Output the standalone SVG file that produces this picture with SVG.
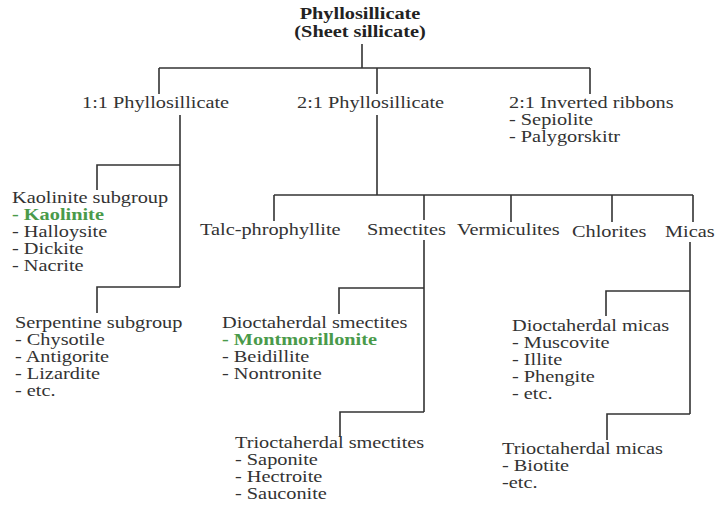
<svg xmlns="http://www.w3.org/2000/svg" width="718" height="508" viewBox="0 0 718 508">
<style>
text{font-family:"Liberation Serif","Times New Roman",serif;font-size:16px;fill:#333}
.b{font-weight:bold;fill:#222}
.g{font-weight:bold;fill:#4a9a4a}
.c path{fill:none;stroke:#333;stroke-width:1.6}
</style>
<rect width="718" height="508" fill="#fff"/>
<g class="c" id="connectors">
<path d="M362,44 V68"/>
<path d="M159,68 H590"/>
<path d="M159,68 V94"/>
<path d="M377,68 V94"/>
<path d="M590,68 V94"/>
<path d="M180,115 V287"/>
<path d="M180,165 H97 V190"/>
<path d="M180,287 H97 V313"/>
<path d="M377,115 V195"/>
<path d="M274,195 H693"/>
<path d="M274,195 V221"/>
<path d="M424,195 V220"/>
<path d="M511,195 V222"/>
<path d="M612,195 V222"/>
<path d="M693,195 V222"/>
<path d="M424,240 V412"/>
<path d="M424,288 H339 V314"/>
<path d="M424,412 H340 V437"/>
<path d="M690,242 V414"/>
<path d="M690,291 H606 V316"/>
<path d="M690,414 H607 V440"/>
</g>
<g id="root" transform="translate(360,19) scale(1.27,1)">
<text class="b" text-anchor="middle" x="0" y="0">Phyllosillicate</text>
<text class="b" text-anchor="middle" x="0" y="18">(Sheet sillicate)</text>
</g>
<g id="phyllo11" transform="translate(82,108) scale(1.27,1)">
<text x="0" y="0">1:1 Phyllosillicate</text>
</g>
<g id="phyllo21" transform="translate(297,108) scale(1.27,1)">
<text x="0" y="0">2:1 Phyllosillicate</text>
</g>
<g id="ribbons" transform="translate(509,108) scale(1.27,1)">
<text x="0" y="0">2:1 Inverted ribbons</text>
<text x="0" y="17">- Sepiolite</text>
<text x="0" y="34">- Palygorskitr</text>
</g>
<g id="kaolinite" transform="translate(12,203) scale(1.27,1)">
<text x="0" y="0">Kaolinite subgroup</text>
<text class="g" x="0" y="17">- Kaolinite</text>
<text x="0" y="34">- Halloysite</text>
<text x="0" y="51">- Dickite</text>
<text x="0" y="68">- Nacrite</text>
</g>
<g id="serpentine" transform="translate(15,328) scale(1.27,1)">
<text x="0" y="0">Serpentine subgroup</text>
<text x="0" y="17">- Chysotile</text>
<text x="0" y="34">- Antigorite</text>
<text x="0" y="51">- Lizardite</text>
<text x="0" y="68">- etc.</text>
</g>
<g id="talc" transform="translate(200,235) scale(1.27,1)">
<text x="0" y="0">Talc-phrophyllite</text>
</g>
<g id="smectites" transform="translate(367,235) scale(1.27,1)">
<text x="0" y="0">Smectites</text>
</g>
<g id="vermiculites" transform="translate(457,235) scale(1.27,1)">
<text x="0" y="0">Vermiculites</text>
</g>
<g id="chlorites" transform="translate(572,237) scale(1.27,1)">
<text x="0" y="0">Chlorites</text>
</g>
<g id="micas" transform="translate(665,237) scale(1.27,1)">
<text x="0" y="0">Micas</text>
</g>
<g id="dioct-smectites" transform="translate(222,328) scale(1.27,1)">
<text x="0" y="0">Dioctaherdal smectites</text>
<text class="g" x="0" y="17">- Montmorillonite</text>
<text x="0" y="34">- Beidillite</text>
<text x="0" y="51">- Nontronite</text>
</g>
<g id="trioct-smectites" transform="translate(235,448) scale(1.27,1)">
<text x="0" y="0">Trioctaherdal smectites</text>
<text x="0" y="17">- Saponite</text>
<text x="0" y="34">- Hectroite</text>
<text x="0" y="51">- Sauconite</text>
</g>
<g id="dioct-micas" transform="translate(512,331) scale(1.27,1)">
<text x="0" y="0">Dioctaherdal micas</text>
<text x="0" y="17">- Muscovite</text>
<text x="0" y="34">- Illite</text>
<text x="0" y="51">- Phengite</text>
<text x="0" y="68">- etc.</text>
</g>
<g id="trioct-micas" transform="translate(502,454) scale(1.27,1)">
<text x="0" y="0">Trioctaherdal micas</text>
<text x="0" y="17">- Biotite</text>
<text x="0" y="34">-etc.</text>
</g>
</svg>
